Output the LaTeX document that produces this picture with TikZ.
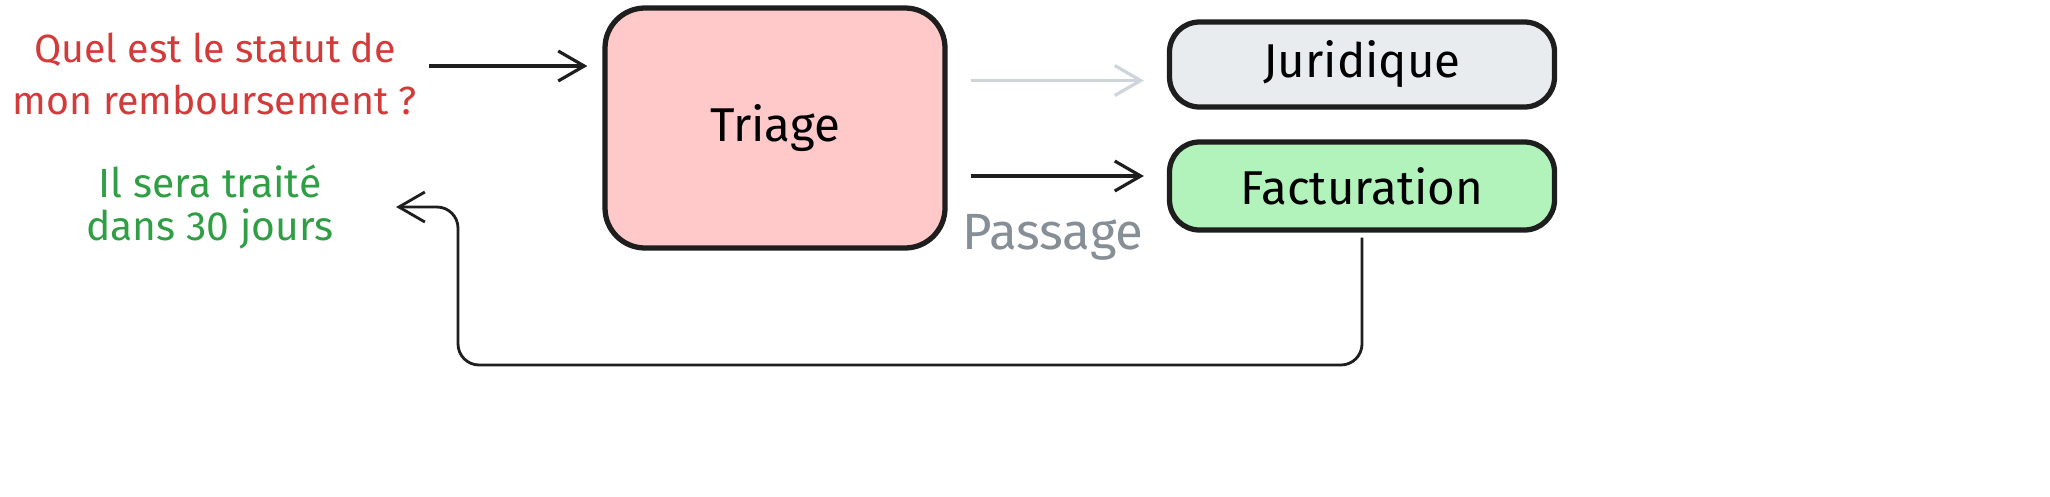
\documentclass[tikz,border=0pt]{standalone}
\usepackage{fontspec}
\setmainfont{Fira Sans}
\usepackage{xcolor}
\usetikzlibrary{arrows.meta,calc}

\definecolor{ink}{HTML}{1E1E1E}
\definecolor{askred}{HTML}{D33A3A}
\definecolor{replygreen}{HTML}{2F9E44}
\definecolor{mutedgrey}{HTML}{868E96}
\definecolor{lightarrow}{HTML}{CED4DA}
\definecolor{triagefill}{HTML}{FFC9C9}
\definecolor{juridfill}{HTML}{E9ECEF}
\definecolor{factfill}{HTML}{B2F2BB}

\begin{document}
\begin{tikzpicture}[
    box/.style={draw=ink, line width=1.5pt, rounded corners=0.3cm, font=\fontsize{13.5}{16}\selectfont},
    flow/.style={-{Straight Barb[length=2.6mm,width=3mm]}, line width=0.9pt, draw=ink},
    txt/.style={align=center}
]
    \useasboundingbox (0,0) rectangle (20.5,-4.96);

    % Question and answer
    \node[txt, text=askred, font=\fontsize{11.2}{14.6}\selectfont] (question) at (2.15,-0.74) {Quel est le statut de\\mon remboursement ?};
    \node[txt, text=replygreen, font=\fontsize{11.6}{12.4}\selectfont] (answer) at (2.1,-2.07) {Il sera traité\\dans 30 jours};

    % Agents
    \node[box, fill=triagefill, rounded corners=0.4cm, minimum width=3.4cm, minimum height=2.4cm] (triage) at (7.75,-1.28) {Triage};
    \node[box, fill=juridfill, minimum width=3.85cm, minimum height=0.85cm] (jur) at (13.62,-0.645) {Juridique};
    \node[box, fill=factfill, minimum width=3.85cm, minimum height=0.88cm] (fact) at (13.62,-1.86) {Facturation};
    \node[font=\fontsize{14.5}{16}\selectfont, text=mutedgrey] (passage) at (10.53,-2.37) {Passage};

    % Arrows
    \draw[flow] ([yshift=0.8mm]question.east) -- ([xshift=-1.5mm,yshift=0.8mm]question.east -| triage.west);
    \draw[flow, draw=lightarrow] ([xshift=2.3mm,yshift=-1.6mm]triage.east |- jur.west) -- ([xshift=-2.3mm,yshift=-1.6mm]jur.west);
    \draw[flow] ([xshift=2.3mm,yshift=1mm]triage.east |- fact.west) -- ([xshift=-2.3mm,yshift=1mm]fact.west);

    % Reply path
    \coordinate (back) at (4.58,-3.65);
    \draw[flow, line width=0.8pt, rounded corners=6pt] ([yshift=-0.5mm]fact.south) |- (back) |- ([xshift=5mm]answer.east);
\end{tikzpicture}
\end{document}
